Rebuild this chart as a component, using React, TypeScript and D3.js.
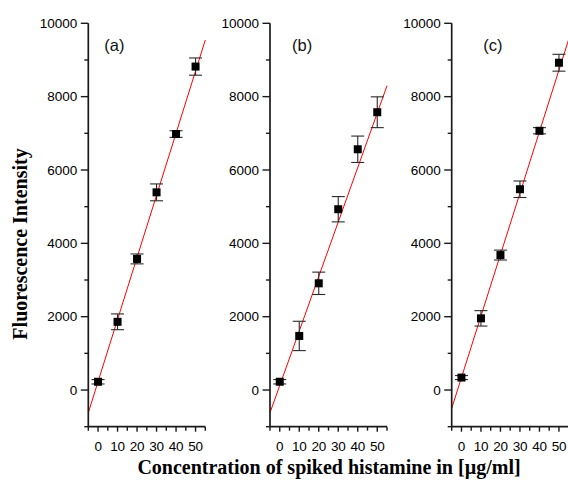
import { useEffect, useRef } from "react";
import * as d3 from "d3";

// concentrations of spiked histamine (µg/ml)
const concentrations = [0, 10, 20, 30, 40, 50];

// fluorescence intensity and error bars, one pair per panel
const intensityA = [225, 1860, 3575, 5390, 6980, 8820];
const errorA = [60, 215, 135, 230, 90, 235];
const intensityB = [226, 1475, 2910, 4930, 6565, 7575];
const errorB = [60, 400, 305, 345, 360, 420];
const intensityC = [340, 1955, 3680, 5475, 7070, 8925];
const errorC = [55, 210, 135, 225, 85, 230];

// linear fits [intercept, slope]
const fitA = [228, 169.4];
const fitB = [124, 148.6];
const fitC = [338, 167.7];

const panelLabels = ["(a)", "(b)", "(c)"];
const xTicks = [0, 10, 20, 30, 40, 50];
const yTicks = [0, 2000, 4000, 6000, 8000, 10000];

const W = 568;
const H = 481;

export default function App() {
  const ref = useRef<SVGSVGElement>(null);

  useEffect(() => {
    if (!ref.current) return;
    const svg = d3.select(ref.current);
    svg.selectAll("*").remove();

    const panels = [
      { y: intensityA, err: errorA, fit: fitA, label: panelLabels[0], left: 88.3, labelDx: 16 },
      { y: intensityB, err: errorB, fit: fitB, label: panelLabels[1], left: 270, labelDx: 22 },
      { y: intensityC, err: errorC, fit: fitC, label: panelLabels[2], left: 451.7, labelDx: 31.5 },
    ];

    const top = 23.3;
    const bottom = 426.7;
    const pw = 117;
    const tickFont = "Arial, 'Liberation Sans', sans-serif";
    const axisColor = "#1a1a1a";

    const y = d3.scaleLinear().domain([-1000, 10000]).range([bottom, top]);

    panels.forEach((p) => {
      const x = d3.scaleLinear().domain([-5, 55]).range([p.left, p.left + pw]);
      const g = svg.append("g");

      // fit line
      const line = d3.line<number>().x((d) => x(d)).y((d) => y(p.fit[0] + p.fit[1] * d));
      g.append("path")
        .attr("d", line([-5, 55]) || "")
        .attr("fill", "none")
        .attr("stroke", "#ff0000")
        .attr("stroke-width", 1);

      // error bars
      const pts = concentrations.map((c, i) => ({ c, v: p.y[i], e: p.err[i] }));
      const eb = g.append("g").attr("stroke", "#2a2a2a").attr("stroke-width", 1.1);
      pts.forEach((d) => {
        const cx = x(d.c);
        eb.append("line").attr("x1", cx).attr("x2", cx).attr("y1", y(d.v + d.e)).attr("y2", y(d.v - d.e));
        [d.v + d.e, d.v - d.e].forEach((v) => {
          eb.append("line").attr("x1", cx - 6.5).attr("x2", cx + 6.5).attr("y1", y(v)).attr("y2", y(v));
        });
      });

      // markers
      g.selectAll("rect.pt")
        .data(pts)
        .join("rect")
        .attr("x", (d) => x(d.c) - 4)
        .attr("y", (d) => y(d.v) - 4)
        .attr("width", 8)
        .attr("height", 8)
        .attr("fill", "#000");

      // y axis
      g.append("line")
        .attr("x1", p.left).attr("x2", p.left)
        .attr("y1", top).attr("y2", bottom)
        .attr("stroke", axisColor).attr("stroke-width", 1.7);
      d3.range(-1000, 10001, 1000).forEach((t) => {
        const major = t % 2000 === 0;
        g.append("line")
          .attr("x1", p.left - (major ? 7.5 : 4)).attr("x2", p.left)
          .attr("y1", y(t)).attr("y2", y(t))
          .attr("stroke", axisColor).attr("stroke-width", 1.4);
      });
      g.selectAll("text.yt")
        .data(yTicks)
        .join("text")
        .attr("x", p.left - 11)
        .attr("y", (d) => y(d) + 4.8)
        .attr("text-anchor", "end")
        .attr("font-family", tickFont)
        .attr("font-size", 13.5)
        .attr("fill", "#000")
        .text((d) => d);

      // x axis
      g.append("line")
        .attr("x1", p.left).attr("x2", p.left + pw)
        .attr("y1", bottom).attr("y2", bottom)
        .attr("stroke", axisColor).attr("stroke-width", 1.7);
      d3.range(-5, 56, 5).forEach((t) => {
        const major = t % 10 === 0;
        g.append("line")
          .attr("x1", x(t)).attr("x2", x(t))
          .attr("y1", bottom).attr("y2", bottom + (major ? 5 : 4))
          .attr("stroke", axisColor).attr("stroke-width", 1.4);
      });
      g.selectAll("text.xt")
        .data(xTicks)
        .join("text")
        .attr("x", (d) => x(d))
        .attr("y", 451)
        .attr("text-anchor", "middle")
        .attr("font-family", tickFont)
        .attr("font-size", 13.5)
        .attr("letter-spacing", -0.2)
        .attr("fill", "#000")
        .text((d) => d);

      // panel label
      g.append("text")
        .attr("x", p.left + p.labelDx)
        .attr("y", 51)
        .attr("font-family", tickFont)
        .attr("font-size", 16.5)
        .attr("fill", "#111")
        .text(p.label);
    });

    // axis titles
    svg.append("text")
      .attr("transform", "translate(27,244) rotate(-90)")
      .attr("text-anchor", "middle")
      .attr("font-family", "'Times New Roman', 'Liberation Serif', serif")
      .attr("font-weight", "bold")
      .attr("font-size", 20)
      .attr("fill", "#000")
      .text("Fluorescence Intensity");

    svg.append("text")
      .attr("x", 329)
      .attr("y", 474)
      .attr("text-anchor", "middle")
      .attr("font-family", "'Times New Roman', 'Liberation Serif', serif")
      .attr("font-weight", "bold")
      .attr("font-size", 20)
      .attr("fill", "#000")
      .text("Concentration of spiked histamine in [µg/ml]");
  }, []);

  return (
    <div style={{ position: "absolute", left: 0, top: 0, width: W, height: H, background: "#fff" }}>
      <svg ref={ref} width={W} height={H} viewBox={`0 0 ${W} ${H}`} />
    </div>
  );
}
